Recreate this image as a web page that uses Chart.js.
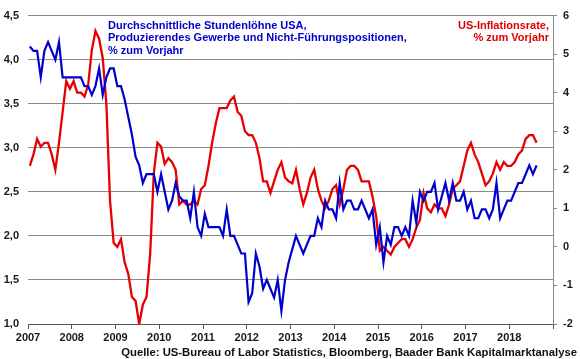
<!DOCTYPE html>
<html><head><meta charset="utf-8">
<script src="https://cdn.jsdelivr.net/npm/chart.js@4"></script>
<style>html,body{margin:0;padding:0;background:#fff}canvas{display:block}</style>
</head><body>
<canvas id="c" width="580" height="359" style="width:580px;height:359px"></canvas>
<script>
const startYear = 2007;
const yearLabels = [2007,2008,2009,2010,2011,2012,2013,2014,2015,2016,2017,2018];
// Average hourly earnings, production & non-supervisory, % y/y (left axis), monthly from Jan 2007
const wageGrowth = [
 4.15,4.1,4.1,3.8,4.1,4.2,4.1,4.0,4.2,3.8,3.8,3.8,
 3.8,3.8,3.8,3.7,3.7,3.6,3.7,3.9,3.6,3.8,3.9,3.9,
 3.7,3.7,3.55,3.35,3.15,2.9,2.8,2.6,2.7,2.7,2.7,2.5,
 2.7,2.5,2.3,2.4,2.6,2.45,2.4,2.4,2.2,2.5,2.1,2.0,
 2.25,2.1,2.1,2.1,2.1,2.0,2.3,2.0,2.0,1.9,1.8,1.8,
 1.25,1.35,1.8,1.65,1.4,1.5,1.4,1.3,1.5,1.15,1.5,1.7,
 1.85,2.0,1.9,1.8,1.9,2.0,2.0,2.2,2.1,2.4,2.3,2.3,
 2.2,2.6,2.3,2.4,2.4,2.3,2.3,2.4,2.3,2.2,2.3,1.9,
 2.1,1.7,2.0,1.9,2.1,2.1,2.0,2.1,2.0,2.4,2.15,2.5,
 2.4,2.5,2.5,2.6,2.3,2.45,2.6,2.4,2.6,2.4,2.4,2.5,
 2.3,2.4,2.2,2.2,2.3,2.3,2.2,2.3,2.6,2.2,2.3,2.4,
 2.4,2.5,2.6,2.6,2.7,2.8,2.7,2.8
];
// US inflation rate, % y/y (right axis), monthly from Jan 2007
const inflation = [
 2.1,2.4,2.8,2.6,2.7,2.7,2.4,2.0,2.7,3.5,4.3,4.1,
 4.3,4.0,4.0,3.9,4.2,5.1,5.6,5.4,4.9,3.7,1.2,0.1,
 0.0,0.2,-0.4,-0.7,-1.3,-1.4,-2.0,-1.5,-1.3,-0.2,1.9,2.7,
 2.6,2.15,2.3,2.2,2.0,1.1,1.2,1.1,1.1,1.2,1.1,1.5,
 1.6,2.1,2.7,3.2,3.6,3.6,3.6,3.8,3.9,3.5,3.4,3.0,
 2.9,2.9,2.7,2.3,1.7,1.7,1.4,1.7,2.0,2.2,1.8,1.7,
 1.65,2.0,1.5,1.1,1.4,1.8,2.0,1.5,1.2,1.0,1.2,1.5,
 1.6,1.1,1.5,2.0,2.1,2.1,2.0,1.7,1.7,1.7,1.3,0.8,
 -0.1,0.0,-0.1,-0.2,0.0,0.1,0.2,0.2,0.0,0.2,0.5,0.7,
 1.4,1.0,0.9,1.1,1.0,1.0,0.8,1.1,1.5,1.6,1.7,2.1,
 2.5,2.7,2.4,2.2,1.9,1.6,1.7,1.9,2.2,2.0,2.2,2.1,
 2.1,2.2,2.4,2.5,2.8,2.9,2.9,2.7
];
const wageTitle = ["Durchschnittliche Stundenlöhne USA,", "Produzierendes Gewerbe und Nicht-Führungspositionen,", "% zum Vorjahr"];
const cpiTitle = ["US-Inflationsrate,", "% zum Vorjahr"];
const sourceText = "Quelle: US-Bureau of Labor Statistics, Bloomberg, Baader Bank Kapitalmarktanalyse";

const BLUE = '#0000cc';
const RED = '#e60000';
const FONT = '"Liberation Sans", Arial, sans-serif';

const toPoints = arr => arr.map((v, i) => ({ x: startYear + (i + 0.5) / 12, y: v }));

const textPlugin = {
  id: 'texts',
  afterDraw(chart) {
    const ctx = chart.ctx;
    ctx.save();
    ctx.font = 'bold 11px ' + FONT;
    ctx.textBaseline = 'alphabetic';
    ctx.textAlign = 'left';
    ctx.fillStyle = BLUE;
    const bw = [200, 308, 80];
    wageTitle.forEach((t, i) => ctx.fillText(t, 108, 29 + i * 12.4, bw[i]));
    ctx.textAlign = 'right';
    ctx.fillStyle = '#e00000';
    cpiTitle.forEach((t, i) => ctx.fillText(t, 549, 28.5 + i * 12.2));
    ctx.font = 'bold 11.3px ' + FONT;
    ctx.fillStyle = '#111';
    ctx.fillText(sourceText, 577, 355.5, 457);
    ctx.restore();
  }
};

Chart.defaults.font.family = FONT;

new Chart(document.getElementById('c'), {
  type: 'line',
  data: {
    datasets: [
      { label: 'Stundenlöhne', data: toPoints(wageGrowth), yAxisID: 'y', borderColor: BLUE, borderWidth: 2.2, pointRadius: 0, tension: 0, fill: false },
      { label: 'Inflation', data: toPoints(inflation), yAxisID: 'y1', borderColor: RED, borderWidth: 2.3, pointRadius: 0, tension: 0, fill: false }
    ]
  },
  options: {
    responsive: false,
    animation: false,
    devicePixelRatio: 1,
    layout: { padding: { top: 15, left: 0, right: 0, bottom: 0 } },
    plugins: { legend: { display: false }, tooltip: { enabled: false } },
    scales: {
      x: {
        type: 'linear', min: 2007, max: 2019,
        afterFit: s => { s.height = 35; },
        ticks: { stepSize: 1, autoSkip: false, maxRotation: 0, padding: 2, color: '#1a1a1a',
          font: { size: 11, weight: 'bold' },
          callback: v => yearLabels.includes(v) ? String(v) : '' },
        grid: { drawOnChartArea: false, drawTicks: true, tickLength: 5, color: '#555' },
        border: { display: true, color: '#555', width: 1 }
      },
      y: {
        position: 'left', min: 1, max: 4.5,
        afterFit: s => { s.width = 28; },
        ticks: { stepSize: 0.5, padding: 9, color: '#1a1a1a', font: { size: 11, weight: 'bold' },
          callback: v => v.toFixed(1).replace('.', ',') },
        grid: { color: '#8a8a8a', drawTicks: false, lineWidth: 1 },
        border: { display: false }
      },
      y1: {
        position: 'right', min: -2, max: 6,
        afterFit: s => { s.width = 27; },
        ticks: { stepSize: 1, padding: 6, color: '#1a1a1a', font: { size: 11, weight: 'bold' } },
        grid: { drawOnChartArea: false, drawTicks: true, tickLength: 4, color: '#888' },
        border: { display: true, color: '#888', width: 1 }
      }
    }
  },
  plugins: [textPlugin]
});
</script>
</body></html>
